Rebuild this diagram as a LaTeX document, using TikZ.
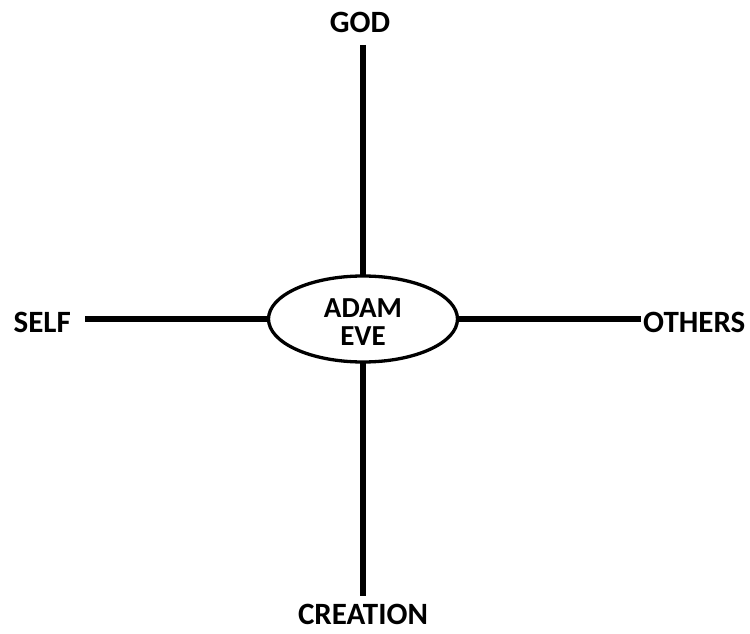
\documentclass[tikz,border=0pt]{standalone}
\usepackage{fontspec}
\setmainfont{Carlito}
\usetikzlibrary{shapes.geometric}
\begin{document}
\begin{tikzpicture}[x=1pt,y=-1pt,
  lbl/.style={font=\bfseries\fontsize{31}{33}\selectfont, inner sep=0pt},
  axis/.style={line width=6.5pt},
  ctr/.style={ellipse, draw, line width=3.3pt, fill=white, minimum width=189pt, minimum height=86pt, inner sep=0pt},
  ctrtext/.style={inner sep=0pt, align=center, font=\bfseries\fontsize{29}{28}\selectfont}]
\useasboundingbox (0,0) rectangle (750,634);
\coordinate (top) at (363,45);
\coordinate (bot) at (363,596);
\coordinate (lft) at (85,319);
\coordinate (rgt) at (641,319);
\draw[axis] (top) -- (bot);
\draw[axis] (lft) -- (rgt);
\node[ctr] (c) at (363,319) {};
\node[ctrtext] (ct) at (363,322) {ADAM\\EVE};
\node[lbl] (god) at (360,22.5) {GOD};
\node[lbl] (cre) at (363,614) {CREATION};
\node[lbl, anchor=east] (self) at (71,322) {SELF};
\node[lbl, anchor=west] (oth) at (643,322) {OTHERS};
\end{tikzpicture}
\end{document}
